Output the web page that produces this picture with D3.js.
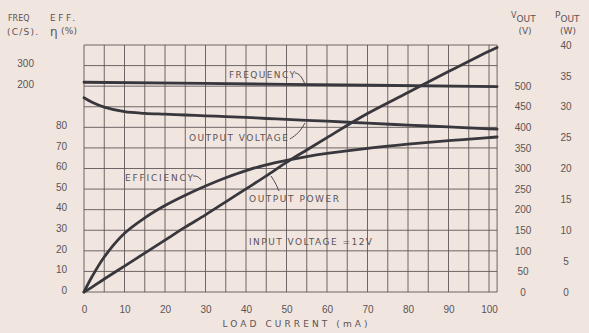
<!DOCTYPE html>
<html>
<head>
<meta charset="utf-8">
<script src="https://cdn.jsdelivr.net/npm/d3@7"></script>
<style>
  body { margin: 0; background: #f1e5df; }
  svg { display: block; font-family: "DejaVu Sans", sans-serif; }
  .lbl { fill: #5a5456; font-size: 9px; }
  .tick text { fill: #5a5456; font-size: 10px; }
</style>
</head>
<body>
<svg id="chart"></svg>
<script>
// values
var loadCurrent   = [0, 2, 5, 10, 15, 20, 25, 30, 35, 40, 45, 50, 55, 60, 70, 80, 90, 100, 102]
var efficiency    = [0, 7.5, 17, 28.5, 36, 42, 47, 51.5, 55.5, 59, 61.8, 64, 65.8, 67.3, 69.8, 71.8, 73.5, 75, 75.3]
var outputVoltage = [472, 461, 449, 438, 434, 432, 430, 428, 426, 424, 421.5, 419.5, 417, 415, 410, 405.5, 401, 396.5, 395.5]
var outputPower   = [0, 0.8, 2.1, 4.2, 6.3, 8.4, 10.5, 12.5, 14.6, 16.7, 18.8, 21, 23, 25, 28.9, 32.3, 35.7, 39, 39.6]
var freqCurrent   = [0, 50, 102]
var frequency     = [219, 209, 198]

var xTicks    = [0, 10, 20, 30, 40, 50, 60, 70, 80, 90, 100]
var effTicks  = [0, 10, 20, 30, 40, 50, 60, 70, 80]
var freqTicks = [200, 300]
var voutTicks = [0, 50, 100, 150, 200, 250, 300, 350, 400, 450, 500]
var poutTicks = [0, 5, 10, 15, 20, 25, 30, 35, 40]

var W = 589, H = 333
var plotTop = 45, plotBottom = 292
var rowH = (plotBottom - plotTop) / 12

var svg = d3.select("#chart").attr("width", W).attr("height", H)

var x = d3.scaleLinear().domain([0, 100]).range([84, 489])
var yEff = d3.scaleLinear().domain([0, 10]).range([plotBottom, plotBottom - rowH])   // 10 % per row
var yFreq = d3.scaleLinear().domain([200, 300]).range([plotBottom - 10 * rowH, plotBottom - 11 * rowH])
var yV = d3.scaleLinear().domain([0, 600]).range([plotBottom, plotTop])
var yP = d3.scaleLinear().domain([0, 40]).range([plotBottom, plotTop])

var left = x(0), right = x(102)

// grid
var grid = svg.append("g").attr("stroke", "#5f5758").attr("stroke-width", 0.9)
grid.selectAll("line.v").data(d3.range(0, 101, 5)).enter().append("line")
  .attr("x1", function(d){ return x(d) }).attr("x2", function(d){ return x(d) })
  .attr("y1", plotTop).attr("y2", plotBottom)
grid.selectAll("line.h").data(d3.range(0, 13)).enter().append("line")
  .attr("x1", left).attr("x2", right)
  .attr("y1", function(d){ return plotBottom - d * rowH }).attr("y2", function(d){ return plotBottom - d * rowH })
grid.append("line").attr("x1", right).attr("x2", right).attr("y1", plotTop).attr("y2", plotBottom)

// axes (labels only)
var noLine = function(g){ g.select(".domain").remove() }
svg.append("g").attr("transform", "translate(0," + (plotBottom + 14) + ")")
  .call(d3.axisBottom(x).tickValues(xTicks).tickSize(0).tickPadding(0)).call(noLine)
svg.append("g").attr("transform", "translate(67,-2)")
  .call(d3.axisLeft(yEff).tickValues(effTicks).tickSize(0).tickPadding(0)).call(noLine)
svg.append("g").attr("transform", "translate(34,-2)")
  .call(d3.axisLeft(yFreq).tickValues(freqTicks).tickSize(0).tickPadding(0)).call(noLine)
svg.append("g").attr("transform", "translate(523,0)")
  .call(d3.axisRight(yV).tickValues(voutTicks).tickSize(0).tickPadding(0)).call(noLine)
  .selectAll("text").attr("text-anchor", "middle")
svg.append("g").attr("transform", "translate(566,0)")
  .call(d3.axisRight(yP).tickValues(poutTicks).tickSize(0).tickPadding(0)).call(noLine)
  .selectAll("text").attr("text-anchor", "middle")

// curves
var curves = svg.append("g").attr("fill", "none").attr("stroke", "#38373d")
  .attr("stroke-width", 2.8).attr("stroke-linecap", "round")

var line = function(xs, ys, yScale){
  return d3.line().curve(d3.curveCatmullRom.alpha(0.5))
    .x(function(d, i){ return x(xs[i]) })
    .y(function(d){ return yScale(d) })(ys)
}
curves.append("path").attr("d", line(freqCurrent, frequency, yFreq))
curves.append("path").attr("d", line(loadCurrent, outputVoltage, yV))
curves.append("path").attr("d", line(loadCurrent, efficiency, yEff))
curves.append("path").attr("d", line(loadCurrent, outputPower, yP))

// text helper: len stretches the letter spacing only
var txt = function(s, px, py, anchor, len, size){
  var t = svg.append("text").attr("class", "lbl").attr("x", px).attr("y", py)
    .attr("text-anchor", anchor || "start").text(s)
  if (len) t.attr("textLength", len).attr("lengthAdjust", "spacing")
  if (size) t.style("font-size", size + "px")
  return t
}
txt("FREQ", 8, 21, "start", null, 8)
txt("EFF.", 50, 21, "start", 25)
txt("(C/S).", 7, 35, "start", 31)
txt("η", 50, 36, "start", null, 12)
txt("(%)", 61, 34, "start", 16)

var vh = svg.append("text").attr("class", "lbl").attr("x", 511).attr("y", 22)
vh.append("tspan").text("V").style("font-size", "8px").attr("dy", -4)
vh.append("tspan").text("OUT").attr("dy", 4)
txt("(V)", 525, 34, "middle")
var ph = svg.append("text").attr("class", "lbl").attr("x", 555).attr("y", 22)
ph.append("tspan").text("P").attr("dy", -4)
ph.append("tspan").text("OUT").attr("dy", 4)
txt("(W)", 568, 34, "middle")

txt("LOAD  CURRENT  (mA)", 295, 327, "middle", 145)

// annotations with leaders
txt("FREQUENCY", 229, 78, "start", 66)
txt("OUTPUT  VOLTAGE", 189, 141, "start", 99)
txt("EFFICIENCY", 125, 181, "start", 68)
txt("OUTPUT  POWER", 249, 202, "start", 90)
txt("INPUT  VOLTAGE  =12V", 249, 245, "start", 123)

var leaders = [
  [[295, 73], [300, 74], [305, 84]],
  [[290, 139], [299, 133], [305, 123]],
  [[193, 176], [198, 176], [201, 180]],
  [[279, 191], [275, 182], [271, 176]]
]
svg.append("g").attr("fill", "none").attr("stroke", "#4a4548").attr("stroke-width", 1)
  .selectAll("path").data(leaders).enter().append("path")
  .attr("d", d3.line().curve(d3.curveBasis))
</script>
</body>
</html>
